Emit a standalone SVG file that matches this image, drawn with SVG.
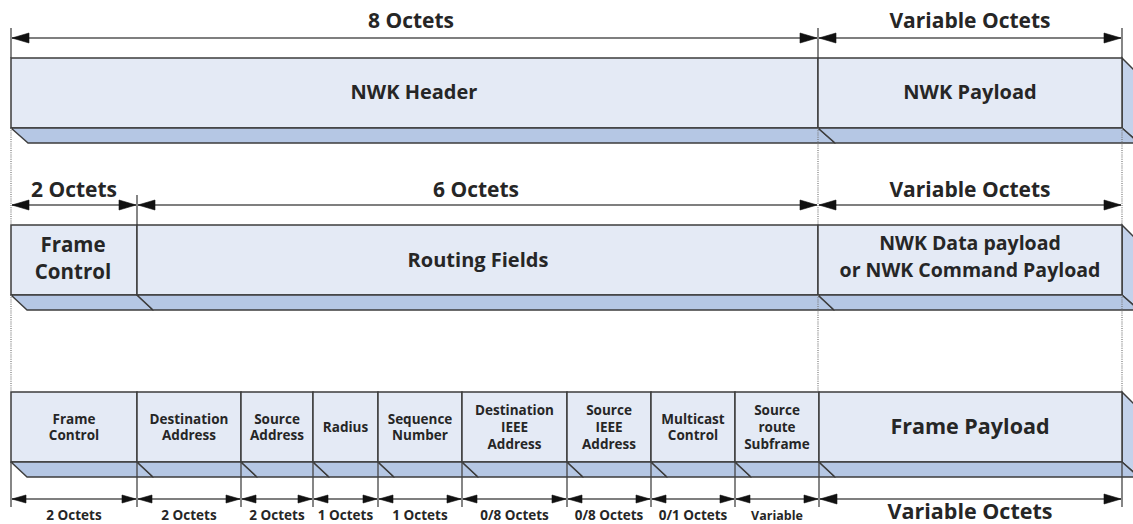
<svg xmlns="http://www.w3.org/2000/svg" width="1133" height="524" viewBox="0 0 1133 524">
  <style>
    .face { fill: #e4eaf5; stroke: #3d3d3d; stroke-width: 1.5; }
    .strip { fill: #b5c7e4; stroke: #3d3d3d; stroke-width: 1.5; stroke-linejoin: round; }
    .side { fill: #c3d2eb; stroke: #3d3d3d; stroke-width: 1.5; }
    .dim { stroke: #555; stroke-width: 1.6; fill: none; }
    .tick { stroke: #444; stroke-width: 1.3; }
    .dot { stroke: #777; stroke-width: 1.2; stroke-dasharray: 1 1.2; }
    text { font-family: "Open Sans", "Noto Sans", "DejaVu Sans", sans-serif; font-weight: bold; fill: #262626; text-anchor: middle; }
    .big { font-size: 21px; }
    .mid { font-size: 20px; }
    .sm { font-size: 13.5px; }
    .xs { font-size: 12.5px; }
  </style>
  <defs>
    <!-- arrowheads, tip at the origin -->
    <path id="hl" fill="#111" stroke="#111" stroke-width="0.6" d="M0,0 L17,-5 L17,5 Z"/>
    <path id="hr" fill="#111" stroke="#111" stroke-width="0.6" d="M0,0 L-17,-5 L-17,5 Z"/>
    <path id="sl" fill="#111" stroke="#111" stroke-width="0.6" d="M0,0 L14,-4 L14,4 Z"/>
    <path id="sr" fill="#111" stroke="#111" stroke-width="0.6" d="M0,0 L-14,-4 L-14,4 Z"/>
  </defs>

  <rect width="1133" height="524" fill="#ffffff"/>

  <!-- Row 1: NWK frame -->
  <g id="nwk-header">
    <rect class="face" x="11" y="58" width="807" height="70"/>
    <polygon class="strip" points="11,128 818,128 835,143 28,143"/>
    <text class="mid" x="414" y="99">NWK Header</text>
  </g>
  <g id="nwk-payload">
    <polygon class="side" points="1122,58 1139,75 1139,143 1122,128"/>
    <rect class="face" x="818" y="58" width="304" height="70"/>
    <polygon class="strip" points="818,128 1122,128 1139,143 835,143"/>
    <text class="mid" x="970" y="99">NWK Payload</text>
  </g>

  <!-- Row 2: header split -->
  <g id="frame-control-2">
    <rect class="face" x="11" y="225" width="126" height="70"/>
    <polygon class="strip" points="11,295 137,295 153,310 27,310"/>
    <text class="mid" x="73" y="252" style="font-size:20.5px">Frame</text>
    <text class="mid" x="73" y="279" style="font-size:20.5px">Control</text>
  </g>
  <g id="routing-fields">
    <rect class="face" x="137" y="225" width="681" height="70"/>
    <polygon class="strip" points="137,295 818,295 834,310 153,310"/>
    <text class="mid" x="478" y="267">Routing Fields</text>
  </g>
  <g id="nwk-data-payload">
    <polygon class="side" points="1122,225 1139,242 1139,310 1122,295"/>
    <rect class="face" x="818" y="225" width="304" height="70"/>
    <polygon class="strip" points="818,295 1122,295 1139,310 834,310"/>
    <text class="mid" x="970" y="250" style="font-size:19.5px">NWK Data payload</text>
    <text class="mid" x="970" y="277" style="font-size:19.5px">or NWK Command Payload</text>
  </g>

  <!-- Row 3: detailed fields -->
  <g id="f-frame-control">
    <rect class="face" x="11" y="392" width="126" height="70"/>
    <polygon class="strip" points="11,462 137,462 153,477 27,477"/>
    <text class="sm" x="74" y="424">Frame</text>
    <text class="sm" x="74" y="440">Control</text>
  </g>
  <g id="f-dest-addr">
    <rect class="face" x="137" y="392" width="104" height="70"/>
    <polygon class="strip" points="137,462 241,462 257,477 153,477"/>
    <text class="sm" x="189" y="424">Destination</text>
    <text class="sm" x="189" y="440">Address</text>
  </g>
  <g id="f-src-addr">
    <rect class="face" x="241" y="392" width="72" height="70"/>
    <polygon class="strip" points="241,462 313,462 329,477 257,477"/>
    <text class="sm" x="277" y="424">Source</text>
    <text class="sm" x="277" y="440">Address</text>
  </g>
  <g id="f-radius">
    <rect class="face" x="313" y="392" width="65" height="70"/>
    <polygon class="strip" points="313,462 378,462 394,477 329,477"/>
    <text class="sm" x="345.5" y="432">Radius</text>
  </g>
  <g id="f-seq">
    <rect class="face" x="378" y="392" width="84" height="70"/>
    <polygon class="strip" points="378,462 462,462 478,477 394,477"/>
    <text class="sm" x="420" y="424">Sequence</text>
    <text class="sm" x="420" y="440">Number</text>
  </g>
  <g id="f-dest-ieee">
    <rect class="face" x="462" y="392" width="105" height="70"/>
    <polygon class="strip" points="462,462 567,462 583,477 478,477"/>
    <text class="sm" x="514.5" y="415">Destination</text>
    <text class="sm" x="514.5" y="432">IEEE</text>
    <text class="sm" x="514.5" y="449">Address</text>
  </g>
  <g id="f-src-ieee">
    <rect class="face" x="567" y="392" width="84" height="70"/>
    <polygon class="strip" points="567,462 651,462 667,477 583,477"/>
    <text class="sm" x="609" y="415">Source</text>
    <text class="sm" x="609" y="432">IEEE</text>
    <text class="sm" x="609" y="449">Address</text>
  </g>
  <g id="f-multicast">
    <rect class="face" x="651" y="392" width="84" height="70"/>
    <polygon class="strip" points="651,462 735,462 751,477 667,477"/>
    <text class="sm" x="693" y="424">Multicast</text>
    <text class="sm" x="693" y="440">Control</text>
  </g>
  <g id="f-source-route">
    <rect class="face" x="735" y="392" width="84" height="70"/>
    <polygon class="strip" points="735,462 819,462 835,477 751,477"/>
    <text class="sm" x="777" y="415">Source</text>
    <text class="sm" x="777" y="432">route</text>
    <text class="sm" x="777" y="449">Subframe</text>
  </g>
  <g id="f-frame-payload">
    <polygon class="side" points="1122,392 1139,409 1139,477 1122,462"/>
    <rect class="face" x="819" y="392" width="303" height="70"/>
    <polygon class="strip" points="819,462 1122,462 1139,477 835,477"/>
    <text x="970" y="434" style="font-size:21.5px">Frame Payload</text>
  </g>

  <!-- Size dimension lines, extension ticks and guides -->
  <g id="connectors">
    <!-- guides between rows -->
    <line class="dot" x1="11" y1="128" x2="11" y2="225"/>
    <line class="dot" x1="818" y1="128" x2="818" y2="225"/>
    <line class="dot" x1="1122" y1="128" x2="1122" y2="225"/>
    <line class="dot" x1="11" y1="295" x2="11" y2="392"/>
    <line class="dot" x1="818" y1="295" x2="818" y2="392"/>
    <line class="dot" x1="1122" y1="295" x2="1122" y2="392"/>

    <!-- row 1 ticks and arrows -->
    <line class="tick" x1="11" y1="28" x2="11" y2="58"/>
    <line class="tick" x1="818" y1="28" x2="818" y2="58"/>
    <line class="tick" x1="1122" y1="28" x2="1122" y2="58"/>
    <line class="dim" x1="12" y1="38" x2="817" y2="38"/>
    <line class="dim" x1="819" y1="38" x2="1121" y2="38"/>
    <use href="#hl" x="12" y="38"/>
    <use href="#hr" x="817" y="38"/>
    <use href="#hl" x="819" y="38"/>
    <use href="#hr" x="1121" y="38"/>

    <!-- row 2 ticks and arrows -->
    <line class="tick" x1="137" y1="195" x2="137" y2="225"/>
    <line class="dim" x1="12" y1="205" x2="136" y2="205"/>
    <line class="dim" x1="138" y1="205" x2="817" y2="205"/>
    <line class="dim" x1="819" y1="205" x2="1121" y2="205"/>
    <use href="#hl" x="12" y="205"/>
    <use href="#hr" x="136" y="205"/>
    <use href="#hl" x="138" y="205"/>
    <use href="#hr" x="817" y="205"/>
    <use href="#hl" x="819" y="205"/>
    <use href="#hr" x="1121" y="205"/>

    <!-- row 3 ticks -->
    <g class="tick">
      <line x1="11" y1="462" x2="11" y2="507"/>
      <line x1="137" y1="462" x2="137" y2="507"/>
      <line x1="241" y1="462" x2="241" y2="507"/>
      <line x1="313" y1="462" x2="313" y2="507"/>
      <line x1="378" y1="462" x2="378" y2="507"/>
      <line x1="462" y1="462" x2="462" y2="507"/>
      <line x1="567" y1="462" x2="567" y2="507"/>
      <line x1="651" y1="462" x2="651" y2="507"/>
      <line x1="735" y1="462" x2="735" y2="507"/>
      <line x1="819" y1="462" x2="819" y2="507"/>
      <line x1="1122" y1="462" x2="1122" y2="507"/>
    </g>
    <!-- row 3 arrows -->
    <g class="dim">
      <line x1="12" y1="499" x2="136" y2="499"/>
      <line x1="138" y1="499" x2="240" y2="499"/>
      <line x1="242" y1="499" x2="312" y2="499"/>
      <line x1="314" y1="499" x2="377" y2="499"/>
      <line x1="379" y1="499" x2="461" y2="499"/>
      <line x1="463" y1="499" x2="566" y2="499"/>
      <line x1="568" y1="499" x2="650" y2="499"/>
      <line x1="652" y1="499" x2="734" y2="499"/>
      <line x1="736" y1="499" x2="818" y2="499"/>
      <line x1="820" y1="499" x2="1121" y2="499"/>
    </g>
    <use href="#sl" x="12" y="499"/><use href="#sr" x="136" y="499"/>
    <use href="#sl" x="138" y="499"/><use href="#sr" x="240" y="499"/>
    <use href="#sl" x="242" y="499"/><use href="#sr" x="312" y="499"/>
    <use href="#sl" x="314" y="499"/><use href="#sr" x="377" y="499"/>
    <use href="#sl" x="379" y="499"/><use href="#sr" x="461" y="499"/>
    <use href="#sl" x="463" y="499"/><use href="#sr" x="566" y="499"/>
    <use href="#sl" x="568" y="499"/><use href="#sr" x="650" y="499"/>
    <use href="#sl" x="652" y="499"/><use href="#sr" x="734" y="499"/>
    <use href="#sl" x="736" y="499"/><use href="#sr" x="818" y="499"/>
    <use href="#hl" x="820" y="499"/><use href="#hr" x="1121" y="499"/>
  </g>

  <!-- size labels -->
  <g id="size-labels">
    <text class="big" x="411" y="28">8 Octets</text>
    <text class="big" x="970" y="28">Variable Octets</text>
    <text class="big" x="74" y="197">2 Octets</text>
    <text class="big" x="476" y="197">6 Octets</text>
    <text class="big" x="970" y="197">Variable Octets</text>
    <text class="sm" x="74" y="520">2 Octets</text>
    <text class="sm" x="189" y="520">2 Octets</text>
    <text class="sm" x="277" y="520">2 Octets</text>
    <text class="sm" x="345.5" y="520">1 Octets</text>
    <text class="sm" x="420" y="520">1 Octets</text>
    <text class="sm" x="514.5" y="520">0/8 Octets</text>
    <text class="sm" x="609" y="520">0/8 Octets</text>
    <text class="sm" x="693" y="520">0/1 Octets</text>
    <text class="xs" x="777" y="520">Variable</text>
    <text x="970" y="519" style="font-size:21.5px">Variable Octets</text>
  </g>
</svg>
